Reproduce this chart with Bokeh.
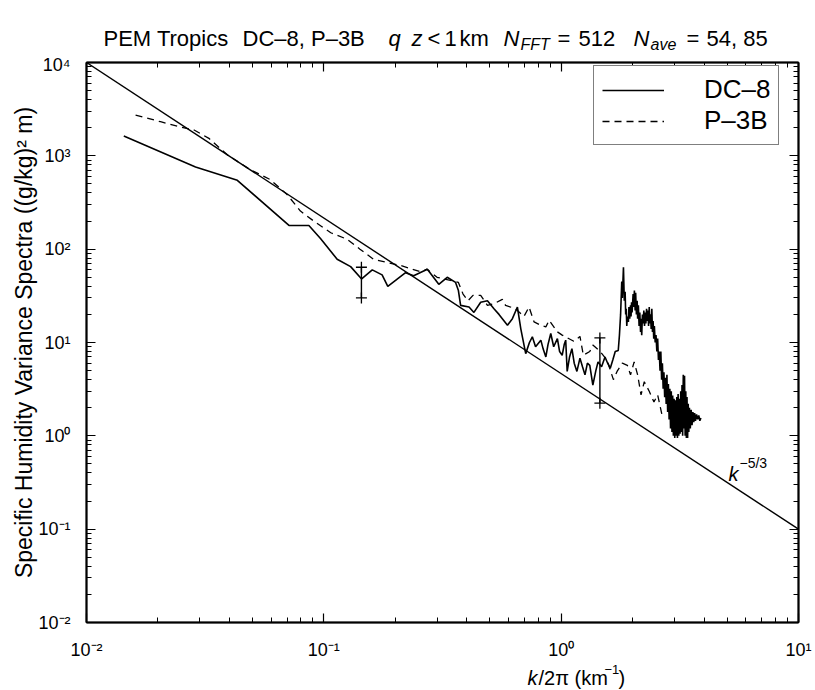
import math
from bokeh.plotting import figure
from bokeh.layouts import column
from bokeh.models import FixedTicker, LogAxis, Label, Legend, LegendItem, Range1d, CustomJSTickFormatter
from bokeh.core.properties import value
from bokeh.embed import file_html
from bokeh.resources import INLINE

FONT = "Liberation Sans"

# ---------------- data ----------------
dc8_k = [0.01436, 0.0288, 0.0432, 0.0713, 0.0865, 0.0968, 0.1138, 0.1297, 0.1443, 0.160,
         0.176, 0.186, 0.221, 0.239, 0.273, 0.305, 0.331, 0.359, 0.369, 0.377,
         0.409, 0.429, 0.458, 0.489, 0.521, 0.547, 0.594, 0.623, 0.654, 0.676,
         0.709, 0.735, 0.756, 0.78, 0.821, 0.84, 0.862, 0.88, 0.904, 0.93,
         0.964, 0.985, 1.01, 1.03, 1.045, 1.06, 1.085, 1.11, 1.135, 1.165,
         1.20, 1.23, 1.26, 1.29, 1.32, 1.36, 1.40, 1.43, 1.48, 1.53,
         1.57, 1.61, 1.65, 1.69, 1.74, 1.76, 1.78, 1.80, 1.81, 1.83,
         1.845, 1.86, 1.87, 1.88, 1.89, 1.90, 1.92, 1.93, 1.945, 1.96,
         1.97, 1.98, 1.99, 2.01, 2.02, 2.035, 2.05, 2.06, 2.075, 2.09,
         2.10, 2.115, 2.13, 2.145, 2.16, 2.17, 2.185, 2.20, 2.215, 2.23,
         2.245, 2.26, 2.275, 2.29, 2.305, 2.32, 2.335, 2.35, 2.365, 2.38,
         2.395, 2.41, 2.425, 2.44, 2.455, 2.47, 2.49, 2.51, 2.53, 2.55,
         2.57, 2.59, 2.61, 2.63, 2.65, 2.67, 2.69, 2.71, 2.73, 2.75,
         2.77, 2.79, 2.81, 2.83, 2.85, 2.87, 2.89, 2.91, 2.93, 2.95,
         2.97, 2.99, 3.01, 3.03, 3.05, 3.07, 3.09, 3.11, 3.13, 3.15,
         3.17, 3.19, 3.21, 3.23, 3.25, 3.27, 3.29, 3.31, 3.33, 3.35,
         3.37, 3.39, 3.41, 3.43, 3.45, 3.47, 3.50, 3.53, 3.56, 3.59,
         3.62, 3.65, 3.68, 3.72, 3.76, 3.80, 3.84, 3.88]
dc8_s = [1633, 759, 546, 180, 179, 130, 78, 65, 48, 60,
         53, 40, 56, 52, 61, 42, 50, 44, 36, 25,
         24, 21, 27, 28, 23, 20, 15.3, 18, 24, 14,
         7.6, 10, 11.5, 9, 10.6, 8.5, 7.0, 9.5, 12.5, 9,
         11, 8, 7.3, 9.5, 10.6, 4.9, 7, 8.6, 6, 4.9,
         6.8, 5.5, 4.5, 6, 5.7, 3.5, 5, 6.2, 5.5, 7.0,
         6, 5.3, 6.5, 8.0, 8.2, 12, 20, 45, 30, 64,
         28, 35, 20, 23, 15, 19, 16.6, 24, 18, 25,
         19, 27, 21, 33, 24, 36, 22, 34, 20, 28,
         18, 25, 15, 21, 13, 18, 12, 20, 16, 22,
         15, 21, 16, 23, 17, 22, 15, 24, 16, 20,
         14, 23, 13, 17, 11, 15, 10, 12, 8, 11,
         6.5, 8, 5, 8, 4, 6, 3.2, 4.8, 2.6, 4.2,
         2.2, 4.5, 1.8, 3.6, 1.5, 3.2, 1.2, 3.0, 1.1, 2.7,
         1.0, 2.5, 0.95, 2.4, 1.0, 2.6, 0.95, 2.8, 1.0, 2.5,
         1.05, 3.0, 1.1, 3.5, 1.0, 4.5, 1.2, 4.4, 1.0, 3.0,
         0.95, 2.6, 0.95, 2.2, 1.1, 2.0, 1.2, 1.9, 1.3, 1.8,
         1.4, 1.75, 1.45, 1.7, 1.5, 1.65, 1.45, 1.55]

p3b_k = [0.0161, 0.0205, 0.0241, 0.0284, 0.0328, 0.0392, 0.0490, 0.0595, 0.0700, 0.0797,
         0.0907, 0.107, 0.125, 0.142, 0.162, 0.185, 0.210, 0.236, 0.257, 0.272,
         0.300, 0.320, 0.347, 0.369, 0.386, 0.405, 0.425, 0.458, 0.489, 0.521,
         0.565, 0.583, 0.642, 0.697, 0.732, 0.769, 0.821, 0.862, 0.89, 0.964,
         1.01, 1.13, 1.20, 1.24, 1.32, 1.36, 1.46, 1.56, 1.66, 1.72,
         1.81, 1.90, 1.96, 2.03, 2.10, 2.17, 2.24, 2.35, 2.46, 2.55, 2.67]
p3b_s = [2730, 2320, 2080, 1890, 1540, 1025, 710, 556, 385, 256,
         200, 150, 128, 100, 78, 72, 67, 61, 57, 61,
         50, 48, 46, 44, 33, 28, 32, 32, 25, 26,
         29, 25, 23, 19, 24, 16.6, 15.3, 14.7, 17.3, 13,
         12, 10.3, 11.6, 7.3, 8.0, 9.4, 8, 6.5, 4.0, 4.9,
         6.0, 5.7, 4.5, 6.2, 4.5, 2.75, 3.8, 3.0, 2.3, 2.75, 1.6]

ref_k = [0.01, 10.0]          # k^-5/3 reference line
ref_s = [1.0e4, 1.0e-1]

err_k = [0.144, 1.456]
err_lo = [30.0, 2.24]
err_hi = [64.0, 11.2]

x_tick_exps = [-2, -1, 0, 1]
y_tick_exps = [-2, -1, 0, 1, 2, 3, 4]
series_names = ["DC\u20138", "P\u20133B"]

# title pieces: (text, x, italic, subscript)
title_parts = [("PEM Tropics", 103, False, False),
               ("DC\u20138, P\u20133B", 242, False, False),
               ("q", 388, True, False),
               ("z", 411, True, False),
               ("<", 427, False, False),
               ("1", 444, False, False),
               ("km", 459, False, False),
               ("N", 503, True, False),
               ("FFT", 520, True, True),
               ("=", 557, False, False),
               ("512", 578, False, False),
               ("N", 633, True, False),
               ("ave", 650, True, True),
               ("=", 686, False, False),
               ("54, 85", 706, False, False)]

W = 815
FRAME_L, FRAME_R = 86, 798
TITLE_H = 54
MAIN_H = 608
XLAB_H = 690 - TITLE_H - MAIN_H


def strip(h):
    # strip figures get their frame aligned with the main frame (x: 86..798)
    f = figure(width=W, height=h, x_range=Range1d(FRAME_L, FRAME_R), y_range=Range1d(h, 0),
               x_axis_location=None, y_axis_location=None, title=None,
               output_backend="svg", toolbar_location=None,
               min_border=0, min_border_left=FRAME_L, min_border_right=W - FRAME_R,
               min_border_top=0, min_border_bottom=0)
    f.xgrid.visible = False
    f.ygrid.visible = False
    f.outline_line_color = None
    f.background_fill_color = "white"
    f.border_fill_color = "white"
    return f


def put_text(f, xs, ys, texts, size, italic=False, align="left"):
    f.text(x=xs, y=ys, text=texts, text_font=value(FONT), text_font_size=f"{size}px",
           text_font_style="italic" if italic else "normal", text_align=align,
           text_baseline="alphabetic", text_color="black")


# ---------------- title strip ----------------
tf = strip(TITLE_H)
for italic in (False, True):
    for sub in (False, True):
        parts = [t for t in title_parts if t[2] == italic and t[3] == sub]
        if not parts:
            continue
        put_text(tf, [t[1] for t in parts], [44 if sub else 38] * len(parts),
                 [t[0] for t in parts], 16 if sub else 22, italic=italic)

# ---------------- main plot ----------------
p = figure(width=W, height=MAIN_H, x_axis_type="log", y_axis_type="log",
           x_range=Range1d(0.01, 10), y_range=Range1d(0.01, 1e4), title=None,
           output_backend="svg", toolbar_location=None,
           min_border_left=FRAME_L, min_border_right=W - FRAME_R,
           min_border_top=8, min_border_bottom=37)
p.xgrid.visible = False
p.ygrid.visible = False
p.outline_line_color = "black"
p.outline_line_width = 1.5
p.background_fill_color = "white"
p.border_fill_color = "white"

x_major = [10.0 ** e for e in x_tick_exps]
y_major = [10.0 ** e for e in y_tick_exps]
x_minor = [m * 10.0 ** e for e in x_tick_exps[:-1] for m in range(2, 10)]
y_minor = [m * 10.0 ** e for e in y_tick_exps[:-1] for m in range(2, 10)]

SUP_JS = """
const sup = {"-": "\\u207b", "0": "\\u2070", "1": "\\u00b9", "2": "\\u00b2",
             "3": "\\u00b3", "4": "\\u2074", "5": "\\u2075"};
const e = Math.round(Math.log10(tick));
return "10" + String(e).split("").map(c => sup[c]).join("");
"""


def style_axis(ax, major, minor, labels):
    ax.ticker = FixedTicker(ticks=major, minor_ticks=minor)
    ax.major_tick_in = 9
    ax.major_tick_out = 0
    ax.minor_tick_in = 5
    ax.minor_tick_out = 0
    ax.axis_line_width = 2
    ax.axis_line_color = "black"
    ax.major_tick_line_color = "black"
    ax.minor_tick_line_color = "black"
    ax.major_tick_line_width = 1.2
    ax.minor_tick_line_width = 1.0
    if labels:
        ax.formatter = CustomJSTickFormatter(code=SUP_JS)
        ax.major_label_text_font = FONT
        ax.major_label_text_font_size = "18px"
        ax.major_label_text_color = "black"
    else:
        ax.formatter = CustomJSTickFormatter(code="return ''")
        ax.major_label_text_font_size = "0px"
        ax.major_label_standoff = 0


style_axis(p.xaxis[0], x_major, x_minor, True)
style_axis(p.yaxis[0], y_major, y_minor, True)
p.xaxis[0].major_label_standoff = 17
p.yaxis[0].major_label_standoff = 16
p.yaxis[0].axis_label = "Specific Humidity Variance Spectra ((g/kg)\u00b2 m)"
p.yaxis[0].axis_label_text_font = FONT
p.yaxis[0].axis_label_text_font_size = "23px"
p.yaxis[0].axis_label_text_font_style = "normal"
p.yaxis[0].axis_label_text_color = "black"
p.yaxis[0].axis_label_standoff = -2

top_ax = LogAxis()
right_ax = LogAxis()
style_axis(top_ax, x_major, x_minor, False)
style_axis(right_ax, y_major, y_minor, False)
p.add_layout(top_ax, "above")
p.add_layout(right_ax, "right")

p.line(ref_k, ref_s, color="black", line_width=1.4)
r_dc8 = p.line(dc8_k, dc8_s, color="black", line_width=1.6)
r_p3b = p.line(p3b_k, p3b_s, color="black", line_width=1.3, line_dash="7 5")
p.segment(x0=err_k, y0=err_lo, x1=err_k, y1=err_hi, color="black", line_width=1.4)
p.scatter(err_k + err_k, err_lo + err_hi, marker="cross", size=11,
          line_color="black", line_width=1.3)

legend = Legend(items=[LegendItem(label=series_names[0], renderers=[r_dc8]),
                       LegendItem(label=series_names[1], renderers=[r_p3b])],
                location=(507, 477), orientation="vertical")
legend.label_text_font = FONT
legend.label_text_font_size = "26px"
legend.label_text_color = "black"
legend.label_height = 24
legend.glyph_height = 24
legend.glyph_width = 62
legend.label_standoff = 40
legend.padding = 8
legend.spacing = -10
legend.margin = 0
legend.border_line_color = "black"
legend.border_line_width = 1.5
legend.background_fill_color = "white"
legend.background_fill_alpha = 1.0
p.add_layout(legend)

# k^-5/3 annotation (inside the frame)
p.add_layout(Label(x=642, y=149, x_units="screen", y_units="screen", text="k",
                   text_font=FONT, text_font_size="20px", text_font_style="italic",
                   text_baseline="alphabetic", text_color="black"))
p.add_layout(Label(x=653, y=160, x_units="screen", y_units="screen", text="\u22125/3",
                   text_font=FONT, text_font_size="14px",
                   text_baseline="alphabetic", text_color="black"))

# ---------------- x-axis title strip ----------------
xf = strip(XLAB_H)
put_text(xf, [527], [15], ["k"], 20, italic=True)
put_text(xf, [538, 618], [15, 15], ["/2\u03c0 (km", ")"], 20)
put_text(xf, [604], [7], ["\u22121"], 13)

layout = column(tf, p, xf, spacing=0)
open("out.html", "w").write(file_html(layout, INLINE))
